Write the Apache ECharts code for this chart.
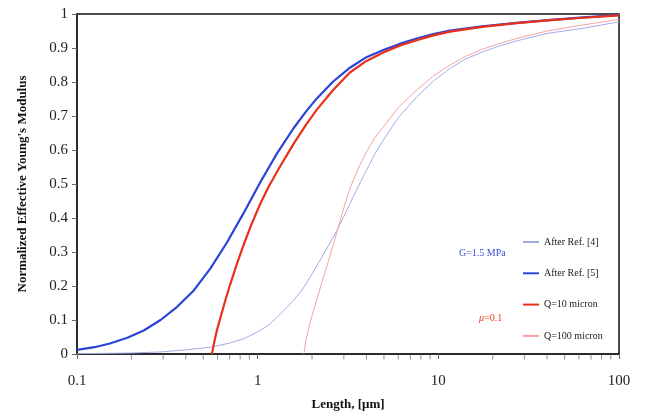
<!DOCTYPE html>
<html>
<head>
<meta charset="utf-8">
<script src="https://cdn.jsdelivr.net/npm/echarts@6/dist/echarts.min.js"></script>
<style>html,body{margin:0;padding:0;background:#fff}#c{width:646px;height:419px}</style>
</head>
<body>
<div id="c"></div>
<script>
// ---- data ----
var lengthRef4 = [0.1, 0.15, 0.2, 0.289, 0.4, 0.548, 0.7, 0.837, 1.0, 1.15, 1.28, 1.42, 1.58, 1.77, 1.95, 2.21, 2.47, 2.75, 3.0, 3.24, 3.6, 4.0, 4.45, 4.96, 6.0, 7.59, 9.4, 11.6, 14.2, 17.7, 21.5, 27.1, 40, 63.4, 100];
var ref4 = [0.001, 0.002, 0.003, 0.006, 0.012, 0.02, 0.032, 0.045, 0.065, 0.085, 0.108, 0.132, 0.158, 0.19, 0.226, 0.275, 0.32, 0.364, 0.404, 0.442, 0.492, 0.54, 0.588, 0.629, 0.695, 0.756, 0.803, 0.840, 0.868, 0.889, 0.905, 0.921, 0.943, 0.958, 0.977];

var lengthRef5 = [0.1, 0.125, 0.152, 0.19, 0.234, 0.29, 0.357, 0.443, 0.548, 0.676, 0.837, 1.034, 1.28, 1.58, 1.85, 2.12, 2.6, 3.24, 4.0, 4.96, 6.1, 7.59, 9.4, 11.6, 17.5, 27.1, 42, 63.4, 100];
var ref5 = [0.012, 0.02, 0.031, 0.048, 0.069, 0.1, 0.138, 0.187, 0.252, 0.328, 0.415, 0.505, 0.590, 0.664, 0.713, 0.751, 0.800, 0.842, 0.873, 0.894, 0.912, 0.928, 0.941, 0.951, 0.964, 0.974, 0.983, 0.990, 0.997];

var lengthQ10 = [0.558, 0.575, 0.595, 0.621, 0.66, 0.705, 0.765, 0.837, 0.93, 1.034, 1.15, 1.28, 1.42, 1.58, 1.85, 2.12, 2.6, 3.24, 4.0, 4.96, 6.1, 7.59, 9.4, 11.6, 17.5, 27.1, 42, 63.4, 100];
var q10 = [0, 0.035, 0.07, 0.105, 0.155, 0.205, 0.263, 0.322, 0.385, 0.442, 0.492, 0.536, 0.577, 0.618, 0.674, 0.718, 0.775, 0.828, 0.862, 0.887, 0.907, 0.923, 0.937, 0.948, 0.962, 0.973, 0.982, 0.989, 0.996];

var lengthQ100 = [1.80, 1.85, 1.9, 1.95, 2.03, 2.13, 2.28, 2.46, 2.75, 3.0, 3.24, 3.6, 4.0, 4.45, 4.96, 6.0, 7.59, 9.4, 11.6, 14.2, 17.7, 21.5, 27.1, 40, 63.4, 100];
var q100 = [0, 0.04, 0.067, 0.092, 0.125, 0.162, 0.215, 0.272, 0.36, 0.43, 0.487, 0.545, 0.595, 0.636, 0.668, 0.725, 0.776, 0.818, 0.850, 0.876, 0.897, 0.912, 0.928, 0.950, 0.968, 0.984];

var seriesNames = ['After Ref. [4]', 'After Ref. [5]', 'Q=10 micron', 'Q=100 micron'];
var minorTickValues = [0.2, 0.3, 0.4, 0.5, 0.6, 0.7, 0.8, 0.9, 2, 3, 4, 5, 6, 7, 8, 9, 20, 30, 40, 50, 60, 70, 80, 90];
var xAxisTitle = 'Length, [\u03bcm]';
var yAxisTitle = "Normalized Effective Young's Modulus";
var noteG = 'G=1.5 MPa';
var noteMu = '=0.1';

function pairs(xs, ys) { return xs.map(function (x, i) { return [x, ys[i]]; }); }

var serif = '"Liberation Serif", "DejaVu Serif", serif';
var chart = echarts.init(document.getElementById('c'), null, { renderer: 'canvas' });

function lineSeries(name, data, color, width) {
  return {
    name: name, type: 'line', data: data, showSymbol: false, symbol: 'none',
    smooth: false,
    lineStyle: { color: color, width: width }, itemStyle: { color: color },
    silent: true, z: 3
  };
}

chart.setOption({
  animation: false,
  backgroundColor: '#fff',
  grid: { left: 77, right: 27, top: 14, bottom: 65, show: true, borderColor: '#111', borderWidth: 1.5, backgroundColor: 'transparent' },
  legend: {
    data: seriesNames, orient: 'vertical', left: 522, top: 236, padding: 0,
    itemWidth: 16, itemHeight: 12, itemGap: 19.3,
    itemStyle: { opacity: 0 },
    textStyle: { fontFamily: serif, fontSize: 10, color: '#222', lineHeight: 12 },
    selectedMode: false
  },
  xAxis: {
    type: 'log', logBase: 10, min: 0.1, max: 100,
    name: xAxisTitle, nameLocation: 'middle', nameGap: 44,
    nameTextStyle: { fontFamily: serif, fontSize: 13, fontWeight: 'bold', color: '#111' },
    axisLine: { lineStyle: { color: '#222', width: 1.5 } },
    axisTick: { show: true, inside: false, length: 5, lineStyle: { color: '#666' } },
    axisLabel: { fontFamily: serif, fontSize: 15, color: '#222', margin: 20,
      formatter: function (v) { return String(+v.toPrecision(3)); } },
    splitLine: { show: false }
  },
  yAxis: {
    type: 'value', min: 0, max: 1, interval: 0.1,
    name: yAxisTitle, nameLocation: 'middle', nameGap: 48,
    nameTextStyle: { fontFamily: serif, fontSize: 13, fontWeight: 'bold', color: '#111' },
    axisLine: { show: true, lineStyle: { color: '#222', width: 1.5 } },
    axisTick: { show: true, inside: false, length: 5, lineStyle: { color: '#666' } },
    axisLabel: { fontFamily: serif, fontSize: 15, color: '#222', margin: 9,
      formatter: function (v) { return String(+v.toFixed(1)); } },
    splitLine: { show: false }
  },
  graphic: [
    { type: 'text', left: 459, top: 248, style: { text: noteG, fontFamily: serif, fontSize: 10, fill: '#3a4fd8' } },
    { type: 'text', left: 479, top: 313, style: {
        text: '{i|\u03bc}{n|' + noteMu + '}',
        rich: { i: { fontFamily: serif, fontStyle: 'italic', fontSize: 10, fill: '#e8401f' },
                n: { fontFamily: serif, fontSize: 10, fill: '#e8401f' } } } }
  ],
  series: [
    lineSeries(seriesNames[0], pairs(lengthRef4, ref4), '#a3ace8', 1),
    lineSeries(seriesNames[1], pairs(lengthRef5, ref5), '#2b43d6', 2.2),
    lineSeries(seriesNames[2], pairs(lengthQ10, q10), '#e8301c', 2.2),
    lineSeries(seriesNames[3], pairs(lengthQ100, q100), '#f5a3a3', 1),
    {
      name: 'minorTicks', type: 'scatter', silent: true, clip: false,
      data: minorTickValues.map(function (v) { return [v, 0]; }),
      symbol: 'rect', symbolSize: [1, 5], symbolOffset: [0, 3],
      itemStyle: { color: '#777' }, z: 1
    }
  ]
});
</script>
</body>
</html>
